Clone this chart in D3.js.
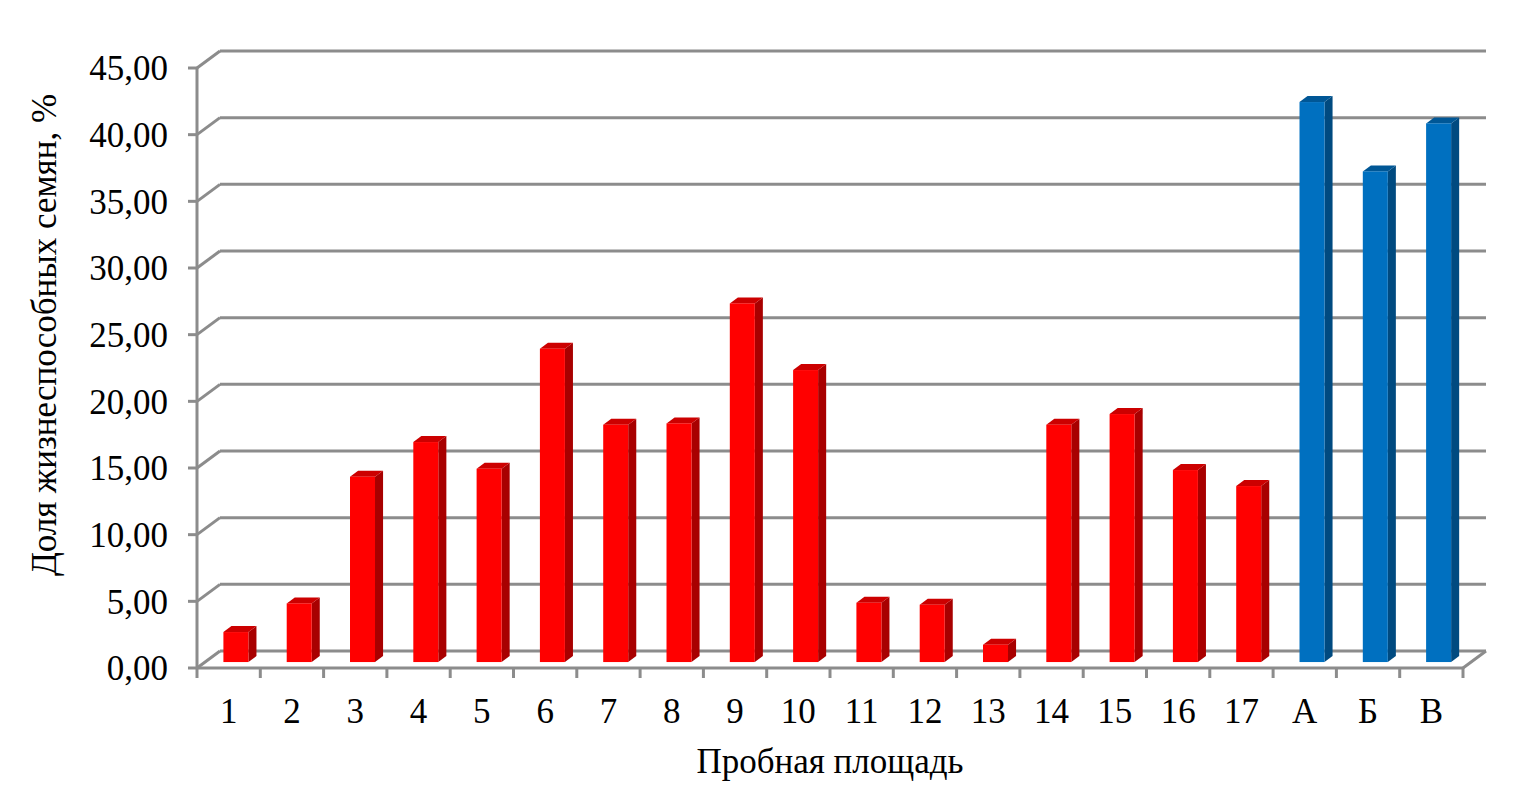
<!DOCTYPE html>
<meta charset="utf-8">
<style>
body { margin: 0; background: #fff; }
text { font-family: "Liberation Serif", "Times New Roman", serif; fill: #000; }
.grid line { stroke: #8c8c8c; stroke-width: 3px; }
</style>
<svg width="1520" height="796"></svg>
<script src="https://d3js.org/d3.v7.min.js"></script>
<script>
// plots (test areas) and share of viable seeds, %
var categories = ["1","2","3","4","5","6","7","8","9","10","11","12","13","14","15","16","17","А","Б","В"];
var values = [2.25, 4.4, 13.9, 16.5, 14.5, 23.5, 17.8, 17.9, 26.9, 21.9, 4.45, 4.3, 1.3, 17.8, 18.6, 14.4, 13.2, 42.0, 36.8, 40.4];
var groups = ["r","r","r","r","r","r","r","r","r","r","r","r","r","r","r","r","r","b","b","b"];
var yTicks = [0, 5, 10, 15, 20, 25, 30, 35, 40, 45];

var svg = d3.select("svg");

var x = d3.scaleBand().domain(categories).range([197, 1463]).padding(0);
var y = d3.scaleLinear().domain([0, 45]).range([668, 68]);

// 3d depth offset of the back wall
var depthX = 23, depthY = -17;
var f0 = 0.35, f1 = 0.70;   // bar depth (fraction of the floor)

var colors = {
  r: {front: "#ff0000", top: "#cc0000", side: "#a80000"},
  b: {front: "#0070c0", top: "#005796", side: "#004a80"}
};

var fmt = function(v) { return d3.format(".2f")(v).replace(".", ","); };

var grid = svg.append("g").attr("class", "grid");

// back wall gridlines + left wall diagonals
yTicks.forEach(function(t) {
  grid.append("line")
      .attr("x1", x.range()[0] + depthX).attr("y1", y(t) + depthY)
      .attr("x2", x.range()[1] + depthX).attr("y2", y(t) + depthY);
  grid.append("line")
      .attr("x1", x.range()[0]).attr("y1", y(t))
      .attr("x2", x.range()[0] + depthX).attr("y2", y(t) + depthY);
  // tick mark
  grid.append("line")
      .attr("x1", x.range()[0] - 9).attr("y1", y(t))
      .attr("x2", x.range()[0]).attr("y2", y(t));
});

// floor: front edge and right edge
grid.append("line")
    .attr("x1", x.range()[0]).attr("y1", y(0))
    .attr("x2", x.range()[1]).attr("y2", y(0));
grid.append("line")
    .attr("x1", x.range()[1]).attr("y1", y(0))
    .attr("x2", x.range()[1] + depthX).attr("y2", y(0) + depthY);
// value axis
grid.append("line")
    .attr("x1", x.range()[0]).attr("y1", y(0))
    .attr("x2", x.range()[0]).attr("y2", y(45));

// category ticks
var catTicks = categories.map(function(c) { return x(c); }).concat([x.range()[1]]);
catTicks.forEach(function(px) {
  grid.append("line")
      .attr("x1", px).attr("y1", y(0))
      .attr("x2", px).attr("y2", y(0) + 10);
});

// bars
var bw = x.bandwidth() * 0.395;
var bars = svg.append("g").selectAll("g")
    .data(categories.map(function(c, i) { return {cat: c, v: values[i], g: groups[i]}; }))
  .enter().append("g");

bars.each(function(d) {
  var g = d3.select(this);
  var dx0 = depthX * f0, dy0 = depthY * f0;
  var ddx = depthX * (f1 - f0), ddy = depthY * (f1 - f0);
  var xl = x(d.cat) + x.bandwidth() * 0.29 + dx0;
  var xr = xl + bw;
  var yb = y(0) + dy0;
  var yt = y(d.v) + dy0;
  var c = colors[d.g];
  // side
  g.append("path")
      .attr("d", "M" + xr + "," + yb + "L" + (xr + ddx) + "," + (yb + ddy) +
                 "L" + (xr + ddx) + "," + (yt + ddy) + "L" + xr + "," + yt + "Z")
      .attr("fill", c.side);
  // top
  g.append("path")
      .attr("d", "M" + xl + "," + yt + "L" + xr + "," + yt +
                 "L" + (xr + ddx) + "," + (yt + ddy) + "L" + (xl + ddx) + "," + (yt + ddy) + "Z")
      .attr("fill", c.top);
  // front
  g.append("rect")
      .attr("x", xl).attr("y", yt)
      .attr("width", bw).attr("height", yb - yt)
      .attr("fill", c.front);
});

// y tick labels
svg.append("g").selectAll("text")
    .data(yTicks)
  .enter().append("text")
    .attr("x", 168)
    .attr("y", function(d) { return y(d); })
    .attr("dy", "0.35em")
    .attr("text-anchor", "end")
    .style("font-size", "35px")
    .text(fmt);

// x tick labels
svg.append("g").selectAll("text")
    .data(categories)
  .enter().append("text")
    .attr("x", function(d) { return x(d) + x.bandwidth() / 2; })
    .attr("y", 723)
    .attr("text-anchor", "middle")
    .style("font-size", "35px")
    .text(function(d) { return d; });

// axis titles
svg.append("text")
    .attr("x", 830).attr("y", 773)
    .attr("text-anchor", "middle")
    .style("font-size", "35px")
    .text("Пробная площадь");

svg.append("text")
    .attr("transform", "translate(56,335) rotate(-90)")
    .attr("text-anchor", "middle")
    .style("font-size", "35px")
    .text("Доля жизнеспособных семян, %");
</script>
